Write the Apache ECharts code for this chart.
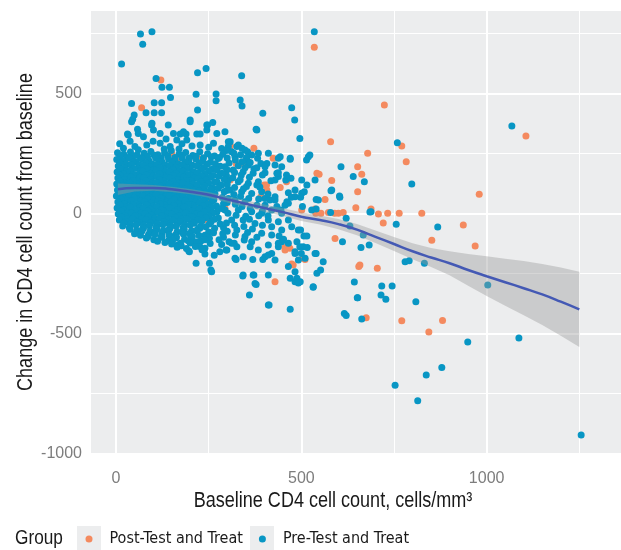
<!DOCTYPE html>
<html><head><meta charset="utf-8">
<script src="https://cdn.jsdelivr.net/npm/echarts@6/dist/echarts.min.js"></script>
<style>html,body{margin:0;padding:0;background:#fff}#c{width:621px;height:550px}</style>
</head><body><div id="c"></div>
<script>
const groupNames = ['Post-Test and Treat', 'Pre-Test and Treat'];
const xTitle = 'Baseline CD4 cell count, cells/mm\u00B3';
const yTitle = 'Change in CD4 cell count from baseline';
const legendTitle = 'Group';

const xTicks = [0, 500, 1000];
const xMinor = [250, 750, 1250];
const yTicks = [-1000, -500, 0, 500];
const yMinor = [-750, -250, 250, 750];

// Post-Test and Treat (orange)
const postData = [
 [121,555],[69,440],[535,692],[724,451],[579,298],[771,280],[783,215],[679,250],[652,194],[663,163],
 [548,163],[582,137],[652,90],[564,58],[647,23],[688,18],[708,-3],[733,0],[764,0],[825,0],
 [721,-40],[613,3],[600,0],[590,0],[573,3],[553,0],[539,0],[501,14],[537,18],[1106,322],
 [980,79],[937,-49],[969,-136],[852,-112],[591,-105],[705,-229],[658,-215],[655,-222],[675,-435],[771,-448],
 [881,-447],[844,-495],[429,-285],[456,-142],[469,-146],[478,-215],[505,-187],[474,-211],[510,-192],[443,108],
 [406,118],[424,229],[460,132],[542,167],[372,271],[309,280],[324,208],[400,118],[391,69],[407,97],
 [150,250],[164,218],[26,206],[29,173],[74,146],[219,236],[308,139],[240,125],[254,55],[218,21],
 [294,21],[245,-28],[119,-7],[263,-76],[343,208],[456,-153],[465,-139]
];

// Pre-Test and Treat (blue)
const preData = [
 [66,747],[97,757],[72,704],[15,622],[108,562],[220,586],[243,603],[339,573],[124,525],[144,525],
 [147,483],[216,496],[270,497],[270,469],[335,472],[340,447],[220,430],[42,458],[103,461],[123,461],
 [81,419],[103,419],[123,419],[49,410],[45,392],[396,417],[200,389],[97,375],[141,368],[247,368],
 [261,378],[58,350],[31,330],[378,350],[173,330],[189,330],[218,330],[227,330],
 [42,382],[96,368],[200,382],[245,368],[101,347],[33,326],[60,333],[74,319],[119,333],[155,333],
 [182,340],[245,347],[272,333],[294,340],[164,305],[191,305],[227,285],[263,292],[308,298],[326,278],
 [83,285],[119,292],[146,278],[20,271],[51,278],[10,290],[38,300],[100,300],[135,310],[178,290],
 [205,280],[250,275],[285,270],[60,265],[130,268],[170,268],[355,257],[382,229],
 [535,757],[474,440],[482,389],[496,312],[759,294],[798,122],[607,194],[640,153],[670,132],[519,236],
 [523,243],[604,67],[582,97],[540,58],[540,18],[688,7],[621,-21],[756,-46],[868,-57],[579,3],
 [685,5],[1068,364],[603,72],[501,139],[515,118],[501,84],[438,153],[418,136],[458,139],[472,146],
 [411,250],[443,236],[470,229],[407,208],[447,194],[434,167],[483,69],[465,86],[461,48],[429,69],
 [434,28],[415,55],[402,34],[445,14],[380,347],[303,298],[330,285],[340,271],[312,257],[384,250],
 [438,229],[470,225],[514,222],[353,222],[357,201],[391,208],[402,194],[429,201],[402,169],[438,169],
 [460,160],[429,139],[384,132],[537,139],[580,94],[546,55],[508,90],[483,97],[473,67],[498,67],
 [465,42],[503,28],[528,14],
 [303,278],[321,236],[348,264],[366,243],[294,194],[316,180],[343,173],[370,167],[303,139],[330,132],
 [357,125],[380,118],[308,97],[339,90],[366,83],[393,90],[303,62],[321,55],[348,48],[380,34],
 [402,62],[429,55],[456,34],[330,14],[366,7],[393,0],[420,14],[447,0],[312,-28],[343,-28],
 [375,-42],[411,-28],[438,-35],[465,-28],[294,14],
 [298,262],[318,250],[336,244],[352,232],[300,230],[322,222],[340,215],[362,212],[305,210],[330,198],
 [348,190],[372,186],[300,182],[320,170],[338,160],[360,150],[298,158],[315,148],[335,140],[352,112],
 [300,120],[320,108],[344,102],[298,95],[318,78],[336,70],[358,62],[300,45],[322,38],[340,28],
 [362,20],[302,0],[324,-8],[350,-12],[298,-40],[320,-50],[345,-55],[368,-65],[300,-75],[322,-90],
 [290,-100],[305,-118],[285,-130],[278,-110],[280,-160],[265,-175],[240,-170],[290,-60],[288,-85],[292,90],
 [290,40],[380,190],[395,160],[388,110],[410,80],[385,60],[395,10],[410,-10],[385,-10],[360,-25],
 [395,-50],[420,-90],[440,-95],[380,-100],[355,-80],
 [326,-70],[312,-125],[348,-97],[366,-118],[393,-83],[420,-56],[447,-70],[474,-56],[492,-70],[465,-125],
 [488,-118],[505,-139],[483,-167],[492,-195],[510,-187],[438,-139],[411,-132],[384,-153],[362,-139],[326,-139],
 [299,-153],[321,-187],[343,-181],[402,-181],[429,-195],[465,-222],[483,-243],[488,-271],[497,-285],[537,-167],
 [559,-202],[542,-250],[532,-306],[411,-257],[375,-292],[370,-257],[343,-257],
 [198,-160],[216,-208],[252,-208],[256,-236],[297,-153],[324,-192],[342,-261],[372,-257],[378,-297],[360,-340],
 [411,-382],[369,-192],[396,-192],[166,-132],[346,-111],[319,-125],[258,-243],
 [470,-400],[470,-271],[483,-285],[492,-290],[532,-308],[447,-118],[438,-125],[452,-108],[420,-167],[411,-174],
 [507,-95],[498,-70],[516,-142],[540,-167],[552,-236],[496,-139],[483,-160],[500,-167],[515,-95],
 [611,-118],[661,-142],[683,-132],[631,-53],[667,-90],[780,-202],[791,-198],[832,-208],[643,-286],[651,-352],
 [717,-303],[745,-303],[715,-340],[728,-358],[652,-352],[809,-368],[616,-417],[621,-426],[663,-440],[879,-642],
 [837,-674],[753,-716],[814,-781],[1255,-924],[949,-536],[1087,-520],[1003,-299],[413,-382],
 [4,252],[21,246],[39,255],[57,243],[76,250],[94,258],[113,244],[131,251],[149,262],[170,246],
 [188,253],[207,241],[226,257],[247,248],[266,239],[288,246],
 [12,238],[30,233],[48,240],[66,231],[85,237],[103,242],[122,230],[140,239],[159,233],[179,241],
 [197,229],[216,238],[236,232],[257,236],[279,233],
 [2,224],[19,218],[36,229],[54,215],[71,226],[89,219],[107,231],[124,214],[142,225],[160,217],
 [178,230],[196,213],[215,226],[234,219],[255,213],[276,228],
 [10,210],[28,204],[45,213],[63,202],[80,211],[98,206],[116,215],[133,201],[151,210],[169,204],
 [187,214],[206,200],[225,209],[246,204],[268,207],
 [6,197],[23,190],[41,201],[58,188],[74,199],[92,193],[110,203],[127,186],[145,197],[162,191],
 [180,202],[199,187],[218,198],[238,191],[259,184],[281,196],
 [12,184],[30,178],[48,187],[66,176],[83,185],[101,180],[118,189],[136,174],[154,183],[172,178],
 [190,188],[209,173],[229,183],[250,176],[272,180],
 [3,172],[20,165],[38,176],[56,161],[73,173],[91,166],[109,178],[126,160],[144,171],[162,165],
 [181,175],[200,159],[219,169],[240,163],[262,158],[286,167],
 [11,159],[29,153],[47,162],[65,150],[82,160],[100,155],[118,164],[136,149],[155,158],[173,152],
 [192,162],[211,147],[231,156],[254,150],[277,154],
 [5,147],[22,140],[40,150],[57,137],[75,148],[93,141],[111,153],[128,136],[146,146],[165,140],
 [183,151],[202,134],[221,145],[243,139],[266,131],[292,141],
 [10,134],[28,128],[46,137],[64,125],[81,135],[99,129],[117,139],[135,123],[153,133],[171,127],
 [190,137],[209,122],[229,131],[250,125],[273,129],
 [2,122],[19,115],[37,126],[55,112],[72,123],[90,117],[108,128],[126,110],[144,121],[162,115],
 [180,126],[199,109],[219,119],[239,113],[261,106],[284,117],
 [12,109],[30,103],[48,112],[66,100],[83,110],[101,104],[119,114],[137,98],[155,108],[174,102],
 [193,112],[213,97],[233,106],[255,100],[276,104],
 [4,97],[21,90],[39,101],[57,87],[75,98],[93,92],[111,103],[129,85],[147,96],[165,90],
 [184,101],[203,84],[223,94],[244,88],[267,82],
 [10,84],[28,78],[46,87],[64,75],[82,85],[100,79],[118,89],[136,73],[154,83],[173,77],
 [192,87],[212,72],[232,81],[254,75],
 [1,72],[18,65],[36,76],[54,62],[72,73],[90,67],[108,78],[126,60],[144,71],[163,65],
 [181,76],[201,59],[221,69],[242,63],[264,57],[287,66],
 [13,59],[31,53],[49,62],[67,50],[85,60],[103,54],[121,64],[139,48],[157,58],[176,52],
 [195,62],[215,47],[236,56],[258,50],
 [5,47],[23,40],[41,51],[59,37],[77,48],[95,42],[113,53],[131,35],[149,46],[168,40],
 [187,51],[206,34],[226,44],[248,38],[271,31],
 [11,34],[29,28],[47,37],[65,25],[83,35],[101,29],[119,39],[137,23],[156,33],[175,27],
 [194,37],[214,22],[235,31],[258,25],[284,20],
 [3,22],[20,15],[38,26],[56,12],[74,23],[92,17],[110,28],[128,10],[146,21],[165,15],
 [184,26],[204,9],[225,19],[247,13],[272,6],
 [14,9],[32,3],[50,12],[68,0],[86,10],[104,4],[122,14],[140,-2],[158,8],[177,2],
 [196,12],[217,-3],[238,6],[261,0],
 [6,-3],[24,-10],[42,1],[60,-13],[78,-2],[96,-8],[114,3],[132,-15],[150,-4],[169,-10],
 [188,1],[208,-16],[229,-6],[251,-12],[276,-20],
 [15,-16],[33,-22],[51,-12],[69,-25],[87,-15],[105,-21],[123,-10],[141,-27],[160,-17],[179,-23],
 [198,-13],[220,-28],[242,-18],[266,-25],
 [9,-28],[27,-35],[45,-24],[63,-38],[81,-27],[99,-33],[117,-22],[135,-40],[153,-29],[172,-35],
 [191,-24],[211,-41],[232,-31],[256,-37],[281,-45],
 [21,-41],[39,-47],[57,-37],[75,-50],[93,-40],[111,-46],[129,-35],[147,-52],[166,-42],[186,-48],
 [206,-38],[228,-54],[252,-44],
 [18,-53],[36,-60],[54,-49],[72,-63],[90,-52],[108,-58],[126,-47],[144,-65],[162,-54],[181,-60],
 [200,-49],[220,-66],[242,-56],[266,-62],
 [38,-66],[56,-72],[74,-62],[92,-75],[110,-65],[128,-71],[146,-60],[165,-77],[184,-67],[204,-73],
 [226,-62],[250,-78],
 [50,-85],[70,-74],[88,-88],[106,-77],[124,-83],[142,-72],[160,-90],[179,-79],[198,-85],[218,-74],
 [240,-91],[263,-81],
 [66,-91],[86,-97],[105,-87],[124,-100],[143,-90],[162,-96],[182,-86],[203,-102],[224,-92],[246,-98],
 [82,-103],[102,-110],[121,-99],[142,-113],[163,-102],[185,-108],[206,-97],[229,-115],[252,-104],
 [112,-116],[132,-122],[153,-111],[174,-125],[195,-114],[216,-120],[240,-110],
 [150,-128],[176,-135],[200,-124],[226,-138],[254,-126],
 [165,-141],[190,-147],[214,-138],[240,-146],
 [196,-156],[232,-152]
];

// fitted smooth and its confidence band
const smoothX = [5,50,100,150,200,250,300,350,400,450,500,550,600,650,700,750,800,850,900,950,1000,1050,1100,1150,1200,1250];
const smoothY = [100,106,106,100,90,77,58,40,22,5,-14,-28,-45,-68,-98,-128,-158,-184,-208,-236,-262,-287,-312,-338,-368,-400];
const bandUpper = [124,121,118,111,101,89,71,54,37,21,4,-9,-24,-45,-72,-99,-125,-144,-158,-170,-179,-189,-199,-211,-226,-243];
const bandLower = [76,91,94,89,79,65,45,26,7,-11,-32,-47,-66,-91,-124,-157,-191,-224,-258,-302,-345,-385,-425,-465,-510,-557];

const COL_POST = '#F48A5F';
const COL_PRE = '#0896C4';
const REG = '"Liberation Sans", Arial, sans-serif';
const COND = '"DejaVu Sans Condensed", "Liberation Sans", sans-serif';

const gridLines = []
  .concat(xTicks.map(v => ({xAxis: v, lineStyle: {width: 2}})))
  .concat(xMinor.map(v => ({xAxis: v, lineStyle: {width: 1}})))
  .concat(yTicks.map(v => ({yAxis: v, lineStyle: {width: 2}})))
  .concat(yMinor.map(v => ({yAxis: v, lineStyle: {width: 1}})));

const chart = echarts.init(document.getElementById('c'), null, {renderer: 'canvas'});
chart.setOption({
  animation: false,
  grid: {left: 91, right: 0, top: 11, bottom: 95, show: true, backgroundColor: '#ECEDEE', borderWidth: 0,
         containLabel: false, outerBoundsMode: 'none'},
  xAxis: {
    type: 'value', min: -67.5, max: 1362.5,
    splitLine: {show: false}, axisLine: {show: false},
    axisTick: {show: true, length: 4, lineStyle: {color: '#666'}, customValues: xTicks},
    axisLabel: {customValues: xTicks, margin: 16, color: '#7d7d7d', fontSize: 16, fontFamily: REG,
                formatter: v => String(v)}
  },
  yAxis: {
    type: 'value', min: -1007, max: 843,
    splitLine: {show: false}, axisLine: {show: false},
    axisTick: {show: true, length: 4, lineStyle: {color: '#666'}, customValues: yTicks},
    axisLabel: {customValues: yTicks, margin: 9, color: '#7d7d7d', fontSize: 16, fontFamily: REG,
                formatter: v => String(v)}
  },
  legend: {
    data: groupNames, left: 85.5, top: 531, padding: 0, icon: 'circle', itemWidth: 7, itemHeight: 7, itemGap: 16,
    selectedMode: false,
    formatter: name => '{s|}{t|' + name + '}',
    textStyle: {fontFamily: COND, fontSize: 16, color: '#1a1a1a', lineHeight: 16,
      rich: {s: {width: 12, lineHeight: 16}, t: {fontFamily: COND, fontSize: 16, color: '#1a1a1a', lineHeight: 16}}}
  },
  graphic: [
    {type: 'rect', left: 77, top: 526, shape: {width: 24, height: 24}, style: {fill: '#ECEDEE'}, z: 0},
    {type: 'rect', left: 250, top: 526, shape: {width: 24, height: 24}, style: {fill: '#ECEDEE'}, z: 0},
    {type: 'text', x: 15, y: 538, scaleX: 0.82,
     style: {text: legendTitle, font: '21px ' + REG, fill: '#1a1a1a', align: 'left', verticalAlign: 'middle'}, z: 0},
    {type: 'text', x: 333, y: 501, scaleX: 0.82,
     style: {text: xTitle, font: '22px ' + REG, fill: '#1a1a1a', align: 'center', verticalAlign: 'middle'}, z: 0},
    {type: 'text', x: 26, y: 232, rotation: Math.PI / 2, scaleX: 0.82,
     style: {text: yTitle, font: '22px ' + REG, fill: '#1a1a1a', align: 'center', verticalAlign: 'middle'}, z: 0}
  ],
  series: [
    {
      name: 'grid', type: 'scatter', data: [[0, 0]], symbolSize: 0, silent: true, z: 1,
      markLine: {silent: true, z: 1, symbol: ['none', 'none'], label: {show: false},
        lineStyle: {color: '#ffffff', type: 'solid'}, emphasis: {disabled: true}, data: gridLines}
    },
    {name: groupNames[0], type: 'scatter', data: postData, symbolSize: 7, z: 2,
      itemStyle: {color: COL_POST, opacity: 1}, emphasis: {disabled: true}},
    {name: groupNames[1], type: 'scatter', data: preData, symbolSize: 7, z: 2,
      itemStyle: {color: COL_PRE, opacity: 1}, emphasis: {disabled: true}},
    {
      name: 'band', type: 'custom', z: 3, silent: true, data: [[smoothX[0], smoothY[0]]],
      renderItem: function (params, api) {
        const pts = [];
        for (let i = 0; i < smoothX.length; i++) pts.push(api.coord([smoothX[i], bandUpper[i]]));
        for (let i = smoothX.length - 1; i >= 0; i--) pts.push(api.coord([smoothX[i], bandLower[i]]));
        return {type: 'polygon', shape: {points: pts}, style: {fill: 'rgba(153,153,153,0.4)'}};
      }
    },
    {
      name: 'fit', type: 'line', z: 4, silent: true, showSymbol: false, smooth: true,
      data: smoothX.map((x, i) => [x, smoothY[i]]),
      lineStyle: {color: '#4459B4', width: 2.5}
    }
  ]
});
</script>
</body></html>
